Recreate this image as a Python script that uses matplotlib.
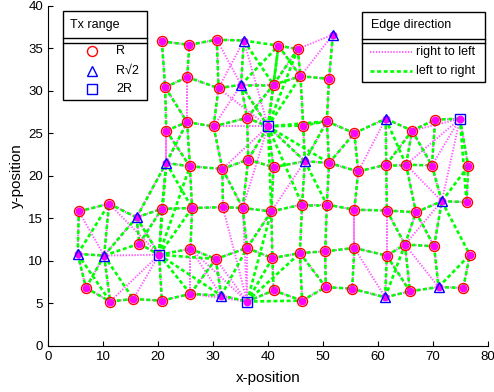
"""Sensor network topology: directed edges coloured by direction, nodes marked by Tx range."""

import numpy as np
import matplotlib

matplotlib.use("Agg")
import matplotlib.pyplot as plt
from matplotlib.patches import Rectangle

plt.rcParams["font.family"] = ["Liberation Sans", "DejaVu Sans"]

# ------------------------------ data -----------------------------------------

# node positions (row by row, top to bottom)
node_x = [
    20.7, 25.7, 30.7, 35.6, 41.9, 45.4, 51.8,
    21.3, 25.3, 31.0, 35.1, 41.0, 45.9, 51.1,
    21.5, 25.3, 30.1, 36.2, 40.0, 46.4, 50.7, 55.7, 61.4, 66.2, 70.4, 74.9,
    21.5, 25.8, 31.7, 36.4, 41.0, 46.7, 51.1, 56.4, 61.5, 65.1, 69.8, 76.4,
    5.6, 11.1, 16.1, 20.7, 26.2, 31.8, 35.4, 40.6, 46.2, 50.7, 55.7, 61.6, 66.9, 71.6, 76.1,
    16.6, 5.4, 10.2, 20.2, 25.9, 30.5, 36.2, 40.8, 45.8, 50.4, 55.7, 61.6, 64.9, 70.2, 76.7,
    6.9, 11.3, 15.5, 20.7, 25.9, 31.5, 36.2, 41.0, 46.2, 50.5, 55.3, 61.3, 65.8, 71.0, 75.5,
]
node_y = [
    35.8, 35.4, 36.0, 35.9, 35.3, 34.9, 36.6,
    30.4, 31.6, 30.3, 30.7, 30.7, 31.7, 31.4,
    25.3, 26.3, 25.8, 26.8, 25.8, 25.9, 26.4, 25.0, 26.7, 25.3, 26.6, 26.7,
    21.5, 21.1, 20.8, 21.9, 21.0, 21.7, 21.5, 20.5, 21.3, 21.3, 21.2, 21.1,
    15.8, 16.7, 15.1, 16.1, 16.2, 16.3, 16.2, 15.8, 16.6, 16.6, 16.0, 15.9, 15.7, 17.0, 16.9,
    12.0, 10.8, 10.6, 10.7, 11.4, 10.2, 11.5, 10.3, 10.9, 11.1, 11.5, 10.6, 11.9, 11.7, 10.7,
    6.8, 5.2, 5.5, 5.3, 6.1, 5.9, 5.2, 6.5, 5.3, 6.9, 6.7, 5.7, 6.4, 6.9, 6.8,
]
node_tx = [
    "R", "R", "R", "R√2", "R", "R", "R√2",
    "R", "R", "R", "R√2", "R", "R", "R",
    "R", "R", "R", "R", "2R", "R", "R", "R", "R√2", "R", "R", "2R",
    "R√2", "R", "R", "R", "R", "R√2", "R", "R", "R", "R", "R", "R",
    "R", "R", "R√2", "R", "R", "R", "R", "R", "R", "R", "R", "R", "R", "R√2", "R",
    "R", "R√2", "R√2", "2R", "R", "R", "R", "R", "R", "R", "R", "R", "R", "R", "R",
    "R", "R", "R", "R", "R", "R√2", "2R", "R", "R", "R", "R", "R√2", "R", "R√2", "R",
]

R_UNIT = 6.2
tx_range = {"R": R_UNIT, "R√2": R_UNIT * np.sqrt(2), "2R": 2 * R_UNIT}

PINK = "#ff5cff"
GREEN = "#00ff00"
pink_style = dict(color=PINK, lw=1.4, ls=(0, (0.7, 0.8)))
green_style = dict(color=GREEN, lw=1.9, ls=(0, (1.5, 1.0)))

# ------------------------------ figure ---------------------------------------

W, H = 494, 392
fig = plt.figure(figsize=(W / 100, H / 100), dpi=100)
ax = fig.add_axes([48 / W, 46.3 / H, 440 / W, 340 / H])

x = np.array(node_x)
y = np.array(node_y)

# a node reaches every node inside its Tx range; edge colour = direction
green_edges, pink_edges = [], []
for i in range(len(x)):
    d = np.hypot(x - x[i], y - y[i])
    for j in np.where((d <= tx_range[node_tx[i]]) & (d > 0))[0]:
        (green_edges if x[j] > x[i] else pink_edges).append((i, j))

for i, j in pink_edges:
    ax.plot([x[i], x[j]], [y[i], y[j]], zorder=2, **pink_style)
for i, j in green_edges:
    ax.plot([x[i], x[j]], [y[i], y[j]], zorder=3, **green_style)

ax.plot(x, y, "o", ms=4.6, color="#ff00ff", mec="#ff00ff", zorder=3.5)

kinds = np.array(node_tx)
marker_style = {
    "R": dict(marker="o", mec="red", ms=7.2),
    "R√2": dict(marker="^", mec="blue", ms=7.6),
    "2R": dict(marker="s", mec="blue", ms=7.0),
}
for k, st in marker_style.items():
    m = kinds == k
    ax.plot(x[m], y[m], ls="none", mfc="none", mew=1.0, zorder=4, **st)

ax.set_xlim(0, 80)
ax.set_ylim(0, 40)
ax.set_xticks(range(0, 81, 10))
ax.set_yticks(range(0, 41, 5))
ax.tick_params(direction="in", length=3.5, labelsize=9.5, width=0.8)
for s in ("top", "right"):
    ax.spines[s].set_visible(False)
ax.set_xlabel("x-position", fontsize=11, labelpad=6)
ax.set_ylabel("y-position", fontsize=11, labelpad=3)

# ------------------------------ legends (pixel overlay) ----------------------

ov = fig.add_axes([0, 0, 1, 1], facecolor="none")
ov.set_xlim(0, W)
ov.set_ylim(H, 0)
ov.axis("off")


def legend_box(x0, x1, y0, yd, y1, title, tx):
    ov.add_patch(Rectangle((x0, y0), x1 - x0, y1 - y0, fill=True, fc="white",
                           ec="black", lw=1.0, zorder=5))
    ov.plot([x0, x1], [yd, yd], color="black", lw=1.0, zorder=6)
    ov.plot([x0, x1], [yd + 4.4, yd + 4.4], color="black", lw=1.0, zorder=6)
    ov.text(tx, (y0 + yd) / 2, title, fontsize=9, va="center", ha="left", zorder=7)


legend_box(62.7, 146.7, 10.7, 38.3, 100, "Tx range", 70)
leg_rows = [(50.7, "R"), (70.7, "R√2"), (89.3, "2R")]
for (ly, lab), (k, st) in zip(leg_rows, marker_style.items()):
    ov.plot([91.7], [ly], ls="none", mfc="none", mew=1.0, zorder=7, **st)
    ov.text(116, ly, lab, fontsize=9, va="center", ha="left", zorder=7)

legend_box(362.3, 485, 11.7, 39, 81.7, "Edge direction", 371)
ov.plot([370, 411.7], [52, 52], zorder=7, **pink_style)
ov.text(415.7, 52, "right to left", fontsize=9, va="center", ha="left", zorder=7)
ov.plot([370, 411.7], [71, 71], zorder=7, **green_style)
ov.text(415.7, 71, "left to right", fontsize=9, va="center", ha="left", zorder=7)

fig.savefig("out.png", dpi=100)
